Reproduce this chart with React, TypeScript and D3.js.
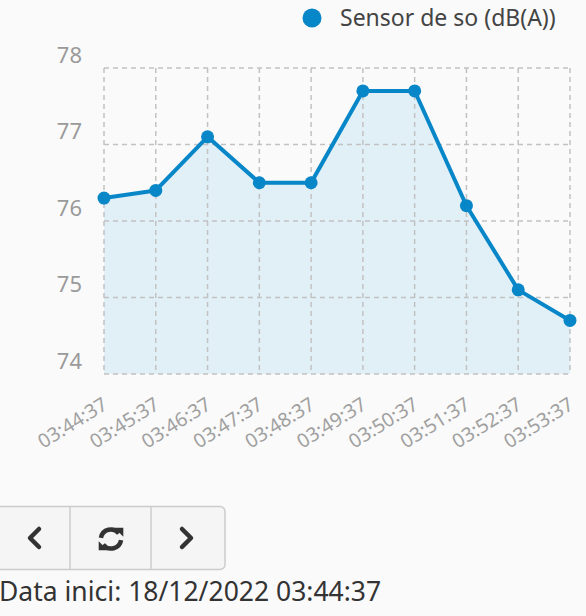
import React from "react";
import * as d3 from "d3";

const times = ["03:44:37","03:45:37","03:46:37","03:47:37","03:48:37","03:49:37","03:50:37","03:51:37","03:52:37","03:53:37"];
const values = [76.3, 76.4, 77.1, 76.5, 76.5, 77.7, 77.7, 76.2, 75.1, 74.7];
const yTicks = [74, 75, 76, 77, 78];
const seriesName = "Sensor de so (dB(A))";
const startLabel = "Data inici: 18/12/2022 03:44:37";

const W = 586, H = 616;
const FONT = "'Noto Sans', 'Open Sans', sans-serif";
const BLUE = "#0786c8";

export default function App() {
  const x = d3.scalePoint<string>().domain(times).range([104, 570]);
  const y = d3.scaleLinear().domain([74, 78]).range([374, 68]);
  const line = d3.line<number>().x((_, i) => x(times[i])!).y((d) => y(d));
  const area = d3.area<number>().x((_, i) => x(times[i])!).y0(y(74)).y1((d) => y(d));
  const grid = "#c2c2c2";
  const dash = "5,4";

  const chevL = "M8 -9 L-1 0 L8 9";
  const chevR = "M-8 -9 L1 0 L-8 9";

  return (
    <svg width={W} height={H} style={{ position: "absolute", left: 0, top: 0, display: "block" }} fontFamily={FONT}>
      <rect x={0} y={0} width={W} height={H} fill="#fafafa" />
      {/* legend */}
      <circle cx={312} cy={18} r={9.5} fill={BLUE} />
      <text x={340} y={26} fontSize={23} fill="#444">{seriesName}</text>

      {/* area */}
      <path d={area(values)!} fill="#e1eff7" />

      {/* grid */}
      {yTicks.map((t) => (
        <line key={"h" + t} x1={104} x2={570} y1={y(t)} y2={y(t)} stroke={grid} strokeWidth={1.5} strokeDasharray={dash} />
      ))}
      {times.map((t) => (
        <line key={"v" + t} x1={x(t)} x2={x(t)} y1={68} y2={374} stroke={grid} strokeWidth={1.5} strokeDasharray={dash} />
      ))}

      {/* y labels */}
      {yTicks.map((t) => (
        <text key={"yl" + t} x={82} y={y(t) - 11} fontSize={22} fill="#9a9a9a" textAnchor="end" dominantBaseline="middle">{t}</text>
      ))}

      {/* x labels */}
      {times.map((t) => (
        <text key={"xl" + t} fontSize={19.5} fill="#a0a0a0" textAnchor="end"
          transform={`translate(${x(t)! + 5},${408}) rotate(-32)`}>{t}</text>
      ))}

      {/* line */}
      <path d={line(values)!} fill="none" stroke={BLUE} strokeWidth={4} strokeLinejoin="round" />
      {values.map((v, i) => (
        <circle key={"p" + i} cx={x(times[i])} cy={y(v)} r={6.5} fill={BLUE} />
      ))}

      {/* buttons */}
      <g>
        <rect x={-6} y={506.5} width={231} height={63} rx={5} fill="#f5f5f5" stroke="#cccccc" strokeWidth={1.5} />
        <line x1={70} x2={70} y1={507} y2={569} stroke="#cccccc" strokeWidth={1.5} />
        <line x1={151} x2={151} y1={507} y2={569} stroke="#cccccc" strokeWidth={1.5} />
        <path d={chevL} transform="translate(31,538)" fill="none" stroke="#333" strokeWidth={4.5} strokeLinecap="round" strokeLinejoin="round" />
        <path d={chevR} transform="translate(190,538)" fill="none" stroke="#333" strokeWidth={4.5} strokeLinecap="round" strokeLinejoin="round" />
        <g transform="translate(111,539) scale(1.12)">
          <path d="M-9 -1 A9 9 0 0 1 7 -5" fill="none" stroke="#333" strokeWidth={4} />
          <path d="M9 1 A9 9 0 0 1 -7 5" fill="none" stroke="#333" strokeWidth={4} />
          <path d="M3 -10 L11 -10 L11 -2 Z" fill="#333" />
          <path d="M-3 10 L-11 10 L-11 2 Z" fill="#333" />
        </g>
      </g>

      <text x={-1} y={601} fontSize={26.5} fill="#333">{startLabel}</text>
    </svg>
  );
}
